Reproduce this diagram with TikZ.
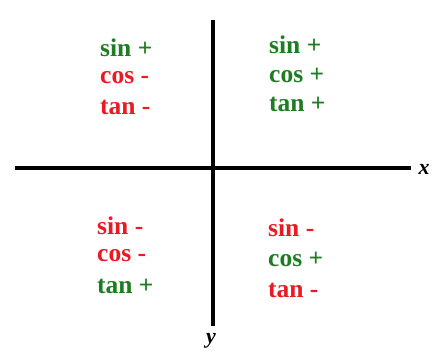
\documentclass[tikz,border=0pt]{standalone}
\usepackage{fontspec}
\setmainfont{Liberation Serif}
\definecolor{pgreen}{RGB}{30,125,35}
\definecolor{pred}{RGB}{235,25,35}
\begin{document}
\begin{tikzpicture}[x=1pt,y=-1pt,
  lbl/.style={anchor=west,inner sep=0pt,font=\fontsize{25.5}{25}\selectfont\bfseries},
  plussign/.style={lbl,text=pgreen},
  minussign/.style={lbl,text=pred},
  axis/.style={line width=3.3pt,black},
  axlbl/.style={inner sep=0pt,font=\fontsize{22}{22}\selectfont\bfseries\itshape}]
\useasboundingbox[fill=white] (0,0) rectangle (440,353);
% axes
\coordinate (xl) at (15,168);
\coordinate (xr) at (411,168);
\coordinate (yt) at (213,20);
\coordinate (yb) at (213,326);
\draw[axis] (xl) -- (xr);
\draw[axis] (yt) -- (yb);
\node[axlbl] (xlab) at (424,169) {x};
\node[axlbl] (ylab) at (211,341) {y};
% quadrant II
\node[plussign] (a1) at (100,48) {sin +};
\node[minussign] (a2) at (100,78) {cos -};
\node[minussign] (a3) at (100,107) {tan -};
% quadrant I
\node[plussign] (b1) at (269,45) {sin +};
\node[plussign] (b2) at (269,75) {cos +};
\node[plussign] (b3) at (269,104) {tan +};
% quadrant III
\node[minussign] (c1) at (97,226) {sin -};
\node[minussign] (c2) at (97,256) {cos -};
\node[plussign] (c3) at (97,286) {tan +};
% quadrant IV
\node[minussign] (d1) at (268,228) {sin -};
\node[plussign] (d2) at (268,259) {cos +};
\node[minussign] (d3) at (268,290) {tan -};
\end{tikzpicture}
\end{document}
